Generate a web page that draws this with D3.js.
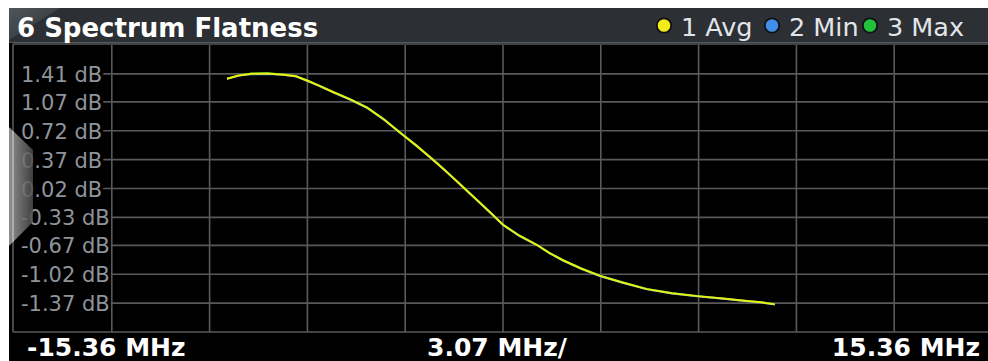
<!DOCTYPE html>
<html>
<head>
<meta charset="utf-8">
<script src="https://cdn.jsdelivr.net/npm/d3@7"></script>
<style>
  html, body { margin: 0; padding: 0; background: #ffffff; }
  svg { display: block; }
</style>
</head>
<body>
<svg id="chart" width="988" height="361"></svg>
<script>
// Spectrum flatness trace data (frequency offset in MHz, level in dB)
const freqMHz = [-8.67, -8.3, -7.9, -7.4, -6.9, -6.5, -6.16, -5.8, -5.34, -4.8,
  -4.27, -3.75, -3.24, -2.72, -2.2, -1.88, -1.57, -1.15, -0.72, -0.35,
  0.0, 0.5, 1.07, 1.45, 1.88, 2.45, 3.05, 3.75, 4.52, 5.3,
  6.09, 6.9, 7.66, 8.1, 8.54];
const avgDb = [1.35, 1.39, 1.41, 1.415, 1.40, 1.38, 1.33, 1.27, 1.19, 1.10,
  1.00, 0.86, 0.70, 0.54, 0.37, 0.26, 0.15, 0.00, -0.155, -0.29,
  -0.42, -0.55, -0.665, -0.76, -0.85, -0.95, -1.04, -1.12, -1.20, -1.25,
  -1.285, -1.315, -1.345, -1.36, -1.385];
const minDb = [1.345, 1.385, 1.40, 1.405, 1.395, 1.372, 1.322, 1.262, 1.183, 1.092,
  0.992, 0.852, 0.693, 0.532, 0.362, 0.252, 0.143, -0.008, -0.163, -0.298,
  -0.428, -0.558, -0.672, -0.768, -0.858, -0.957, -1.048, -1.128, -1.207, -1.257,
  -1.292, -1.322, -1.352, -1.367, -1.39];
const maxDb = [1.355, 1.395, 1.418, 1.422, 1.407, 1.387, 1.338, 1.278, 1.197, 1.108,
  1.008, 0.868, 0.708, 0.548, 0.378, 0.268, 0.157, 0.008, -0.147, -0.282,
  -0.412, -0.542, -0.658, -0.752, -0.842, -0.943, -1.032, -1.112, -1.193, -1.243,
  -1.278, -1.308, -1.338, -1.353, -1.38];

// Axis definitions
const yTickValues = [1.41, 1.07, 0.72, 0.37, 0.02, -0.33, -0.67, -1.02, -1.37];
const yTickLabels = ["1.41 dB", "1.07 dB", "0.72 dB", "0.37 dB", "0.02 dB",
  "-0.33 dB", "-0.67 dB", "-1.02 dB", "-1.37 dB"];
const xGridValues = [-12.288, -9.216, -6.144, -3.072, 0, 3.072, 6.144, 9.216, 12.288];
const xDomain = [-15.36, 15.36];
const yDomain = [-1.72, 1.76];
const xLabels = ["-15.36 MHz", "3.07 MHz/", "15.36 MHz"];

const title = "6 Spectrum Flatness";
const legendItems = [
  { label: "1 Avg", color: "#f4ec1a" },
  { label: "2 Min", color: "#3f8fe8" },
  { label: "3 Max", color: "#22c33a" }
];

const svg = d3.select("#chart");
const W = 988, H = 361;

const plot = { left: 14, right: 992, top: 45, bottom: 332 };
const x = d3.scaleLinear().domain(xDomain).range([plot.left, plot.right]);
const y = d3.scaleLinear().domain(yDomain).range([plot.bottom, plot.top]);

// Window background
svg.append("rect").attr("x", 9).attr("y", 8).attr("width", W - 9).attr("height", H - 8).attr("fill", "#000");

// Title bar
const defs = svg.append("defs");
const tg = defs.append("linearGradient").attr("id", "titleGrad").attr("x1", 0).attr("y1", 0).attr("x2", 1).attr("y2", 1);
tg.append("stop").attr("offset", "0").attr("stop-color", "#5a5f64");
tg.append("stop").attr("offset", "1").attr("stop-color", "#2c3034");
svg.append("rect").attr("x", 9).attr("y", 8).attr("width", W - 9).attr("height", 35).attr("fill", "#2c3034");
svg.append("path").attr("d", "M9,8 L60,8 L9,40 Z").attr("fill", "url(#titleGrad)").attr("opacity", 0.8);
svg.append("line").attr("x1", 9).attr("x2", W).attr("y1", 42.5).attr("y2", 42.5).attr("stroke", "#555a5e").attr("stroke-width", 1);

svg.append("text").attr("x", 17).attr("y", 36.5)
  .attr("font-family", "'DejaVu Sans', Verdana, sans-serif").attr("font-weight", "bold")
  .attr("font-size", 26).attr("fill", "#ffffff").text(title);

// Legend (right-aligned in the title bar)
const legendX = [664, 772, 870];
legendItems.forEach((d, i) => {
  svg.append("circle").attr("cx", legendX[i]).attr("cy", 25.5).attr("r", 7.2)
    .attr("fill", d.color).attr("stroke", "#101214").attr("stroke-width", 1.8);
  svg.append("text").attr("x", legendX[i] + 17).attr("y", 35.5)
    .attr("font-family", "'DejaVu Sans', Verdana, sans-serif").attr("font-size", 25.5)
    .attr("fill", "#e2e6ea").text(d.label);
});

// Grid
const grid = svg.append("g").attr("stroke", "#595959").attr("stroke-width", 1.6);
grid.selectAll("line.v").data(xGridValues).join("line").attr("class", "v")
  .attr("x1", d => x(d)).attr("x2", d => x(d)).attr("y1", plot.top).attr("y2", plot.bottom);
grid.selectAll("line.h").data(yTickValues).join("line").attr("class", "h")
  .attr("x1", plot.left).attr("x2", W).attr("y1", d => y(d)).attr("y2", d => y(d));
// Frame
grid.append("line").attr("x1", 13).attr("x2", 13).attr("y1", 44).attr("y2", plot.bottom);
grid.append("line").attr("x1", 13).attr("x2", W).attr("y1", 44).attr("y2", 44);
grid.append("line").attr("x1", 13).attr("x2", W).attr("y1", plot.bottom).attr("y2", plot.bottom);

// Y axis labels with black backing
const yAxis = d3.axisRight(y).tickValues(yTickValues).tickSize(0)
  .tickFormat((d, i) => yTickLabels[i]);
const yg = svg.append("g").attr("transform", `translate(${21},0)`).call(yAxis);
yg.select(".domain").remove();
yg.selectAll("text")
  .attr("x", 0).attr("dy", "0.36em")
  .attr("font-family", "'DejaVu Sans', Verdana, sans-serif").attr("font-size", 21)
  .attr("fill", "#8e949a").attr("text-anchor", "start");
yg.selectAll(".tick").each(function () {
  const t = d3.select(this).select("text");
  const bb = t.node().getBBox();
  d3.select(this).insert("rect", "text")
    .attr("x", -7).attr("y", bb.y + 2).attr("width", bb.x + bb.width + 7 + 1).attr("height", bb.height - 4)
    .attr("fill", "#000");
});

// Traces: max (green), min (blue), avg (yellow) on top
const mkLine = vals => d3.line().x((d, i) => x(freqMHz[i])).y((d, i) => y(vals[i]));
svg.append("path").datum(maxDb).attr("d", mkLine(maxDb)).attr("fill", "none")
  .attr("stroke", "#22c33a").attr("stroke-width", 1.2);
svg.append("path").datum(minDb).attr("d", mkLine(minDb)).attr("fill", "none")
  .attr("stroke", "#3f8fe8").attr("stroke-width", 1.2);
svg.append("path").datum(avgDb).attr("d", mkLine(avgDb)).attr("fill", "none")
  .attr("stroke", "#eeee10").attr("stroke-width", 2);

// Side tab
const sg = defs.append("linearGradient").attr("id", "tabGrad").attr("x1", 0).attr("x2", 1).attr("y1", 0).attr("y2", 0);
sg.append("stop").attr("offset", "0").attr("stop-color", "#a8a8a8");
sg.append("stop").attr("offset", "1").attr("stop-color", "#4a4a4a");
svg.append("path").attr("d", "M9,127 L33,150 L33,222 L9,246 Z").attr("fill", "url(#tabGrad)").attr("opacity", 0.85);
svg.append("line").attr("x1", 13).attr("x2", 13).attr("y1", 131).attr("y2", 242).attr("stroke", "#d0d0d0").attr("stroke-width", 1);

// X axis labels
const xLab = svg.append("g").attr("font-family", "'DejaVu Sans', Verdana, sans-serif")
  .attr("font-weight", "bold").attr("font-size", 25).attr("fill", "#ffffff");
xLab.append("text").attr("x", 27).attr("y", 356).attr("text-anchor", "start").text(xLabels[0]);
xLab.append("text").attr("x", 497).attr("y", 356).attr("text-anchor", "middle").text(xLabels[1]);
xLab.append("text").attr("x", 980).attr("y", 356).attr("text-anchor", "end").text(xLabels[2]);
</script>
</body>
</html>
